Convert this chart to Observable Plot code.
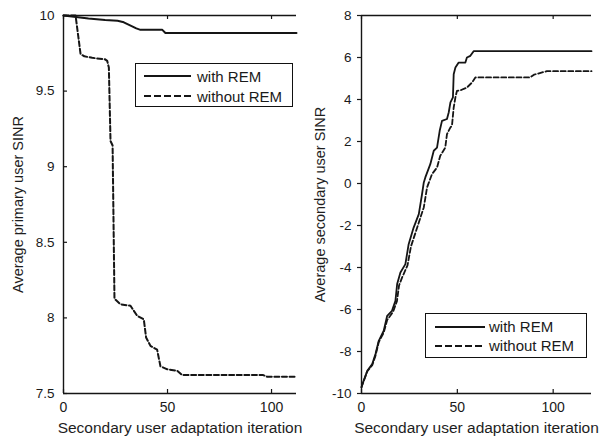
<!DOCTYPE html>
<html>
<head>
<meta charset="utf-8">
<script src="https://cdn.jsdelivr.net/npm/d3@7"></script>
<script src="https://cdn.jsdelivr.net/npm/@observablehq/plot@0.6"></script>
<style>
  body { margin: 0; background: #fff; font-family: "Liberation Sans", Arial, sans-serif; }
  #wrap { position: relative; width: 611px; height: 437px; overflow: hidden; background: #fff; }
  .panel { position: absolute; top: 0; }
  .legend { position: absolute; box-sizing: border-box; border: 1.4px solid #111; background: #fff;
            font-size: 15px; color: #1a1a1a; }
  .legend .row { display: flex; align-items: center; }
  .legend svg { display: block; }
</style>
</head>
<body>
<div id="wrap"></div>
<script>
// ---------- data ----------
const xLabel = "Secondary user adaptation iteration";
const yLabelLeft = "Average primary user SINR";
const yLabelRight = "Average secondary user SINR";
const seriesNames = ["with REM", "without REM"];

const xTicksLeft = [0, 50, 100];
const yTicksLeft = [7.5, 8, 8.5, 9, 9.5, 10];
const xTicksRight = [0, 50, 100];
const yTicksRight = [-10, -8, -6, -4, -2, 0, 2, 4, 6, 8];

// Left panel: average primary user SINR
const leftWithX = [0, 6, 12, 20, 26, 29, 32, 35, 37, 47.5, 49, 112];
const leftWithY = [10, 9.99, 9.98, 9.97, 9.965, 9.955, 9.935, 9.915, 9.905, 9.905, 9.884, 9.884];
const leftWithoutX = [0, 5.8, 8.2, 10, 13.8, 20, 21, 21.8, 22.6, 23.6, 24.5, 25, 27.4, 32.2, 35.4, 38.6, 39.7, 41.8, 45, 46.6, 49.9, 54.7, 57, 96, 98, 112];
const leftWithoutY = [10, 10, 9.745, 9.73, 9.72, 9.71, 9.70, 9.656, 9.17, 9.14, 8.125, 8.12, 8.09, 8.08, 8.014, 7.99, 7.87, 7.815, 7.79, 7.68, 7.66, 7.65, 7.622, 7.622, 7.61, 7.61];

// Right panel: average secondary user SINR
const rightWithX = [0, 0.3, 3, 5.6, 7.3, 9, 11.6, 13.4, 15.9, 17.7, 18.6, 20.3, 22.9, 24.6, 27.2, 29.9, 31.6, 32.5, 33.3, 35.9, 37.7, 39.4, 40.8, 42, 44.6, 45.5, 46.4, 47.7, 48.1, 49, 50.7, 54.2, 55, 56.8, 58.5, 120];
const rightWithY = [-9.7, -9.6, -8.92, -8.6, -8.12, -7.49, -7.01, -6.3, -6.06, -5.59, -4.79, -4.24, -3.84, -2.89, -2.1, -1.46, -0.5, 0.05, 0.29, 0.92, 1.56, 1.71, 2.51, 2.98, 3.07, 3.38, 3.86, 4.1, 5.2, 5.52, 5.76, 5.76, 6.0, 6.08, 6.3, 6.3];
const rightWithoutX = [0, 3, 5.6, 7.3, 9, 11.6, 13.4, 15, 16.5, 18.5, 19.6, 21.3, 24, 25.8, 28.5, 31, 32.5, 34.2, 36.8, 39.4, 41.1, 43.7, 44.6, 46.4, 47.2, 48.1, 49, 49.8, 52, 55, 57.7, 59.4, 88, 90, 96.7, 120];
const rightWithoutY = [-9.7, -8.95, -8.65, -8.2, -7.55, -7.1, -6.5, -6.3, -6.1, -5.6, -4.85, -4.45, -3.9, -3.0, -2.25, -1.55, -1.14, -0.19, 0.45, 0.76, 1.32, 1.71, 2.35, 2.67, 2.75, 3.62, 4.1, 4.41, 4.45, 4.57, 4.81, 5.05, 5.05, 5.18, 5.35, 5.35];

// ---------- helpers ----------
const pts = (xs, ys) => xs.map((x, i) => ({x, y: ys[i]}));
const ink = "#151515";
const dash = "5,2.6";

function panel({width, marginLeft, marginRight, xDomain, yDomain, xTicks, yTicks, yLabel, yLabelDx,
                withData, withoutData, inwardY, lineWidth}) {
  const height = 437, marginTop = 15, marginBottom = 44;
  const H = height - marginTop - marginBottom;
  const W = width - marginLeft - marginRight;
  const marks = [
    // frame lines: top, bottom, left
    Plot.ruleY([yDomain[1]], {stroke: ink, strokeWidth: 1.4}),
    Plot.ruleY([yDomain[0]], {stroke: ink, strokeWidth: 1.4}),
    Plot.ruleX([xDomain[0]], {stroke: ink, strokeWidth: 1.4}),
    // inward x ticks (bottom and top)
    Plot.tickX(xTicks, {x: d => d, stroke: ink, strokeWidth: 1.2, insetTop: H - 4}),
    Plot.tickX(xTicks, {x: d => d, stroke: ink, strokeWidth: 1.2, insetBottom: H - 4}),
    Plot.axisX({ticks: xTicks, tickSize: 0, tickPadding: 9, fontSize: 14, label: null, tickFormat: d => String(d)}),
    inwardY
      ? Plot.axisY({ticks: yTicks, tickSize: 0, tickPadding: 9, fontSize: 13.5, label: null, tickFormat: d => String(d)})
      : Plot.axisY({ticks: yTicks, tickSize: 4, tickPadding: 6, fontSize: 13.5, label: null, tickFormat: d => String(d), strokeWidth: 1.2}),
    // series
    Plot.line(withData, {x: "x", y: "y", stroke: ink, strokeWidth: lineWidth}),
    Plot.line(withoutData, {x: "x", y: "y", stroke: ink, strokeWidth: lineWidth, strokeDasharray: dash}),
    // axis titles
    Plot.text([xLabel], {text: d => d, frameAnchor: "bottom", textAnchor: "middle", lineAnchor: "middle",
                         dy: 35, fontSize: 15.5, fill: "#1e1e1e"}),
    Plot.text([yLabel], {text: d => d, frameAnchor: "left", textAnchor: "middle", lineAnchor: "middle",
                         rotate: -90, dx: yLabelDx, fontSize: 14.5, fill: "#1e1e1e"})
  ];
  if (inwardY) {
    marks.splice(5, 0, Plot.tickY(yTicks, {y: d => d, stroke: ink, strokeWidth: 1.2, insetRight: W - 4}));
  }
  return Plot.plot({
    width, height, marginTop, marginBottom, marginLeft, marginRight,
    x: {domain: xDomain},
    y: {domain: yDomain},
    style: {background: "transparent", overflow: "visible", maxWidth: "none", color: "#1a1a1a",
            fontFamily: "'Liberation Sans', Arial, sans-serif"},
    marks
  });
}

function legend({left, top, width, height, padTop, padLeft, rowH, lineW, gap}) {
  const box = document.createElement("div");
  box.className = "legend";
  Object.assign(box.style, {left: left + "px", top: top + "px", width: width + "px", height: height + "px",
                            paddingTop: padTop + "px", paddingLeft: padLeft + "px"});
  seriesNames.forEach((name, i) => {
    const row = document.createElement("div");
    row.className = "row";
    row.style.height = rowH + "px";
    const s = d3.create("svg").attr("width", lineW).attr("height", 4);
    s.append("line").attr("x1", 0).attr("x2", lineW).attr("y1", 2).attr("y2", 2)
      .attr("stroke", ink).attr("stroke-width", 2)
      .attr("stroke-dasharray", i === 1 ? "7,3" : null);
    row.appendChild(s.node());
    const t = document.createElement("span");
    t.textContent = name;
    t.style.marginLeft = gap + "px";
    row.appendChild(t);
    box.appendChild(row);
  });
  return box;
}

const wrap = document.getElementById("wrap");

const left = document.createElement("div");
left.className = "panel";
left.style.left = "0px";
left.appendChild(panel({
  width: 320, marginLeft: 63, marginRight: 24,
  xDomain: [0, 112], yDomain: [7.5, 10], xTicks: xTicksLeft, yTicks: yTicksLeft,
  yLabel: yLabelLeft, yLabelDx: -45.5,
  withData: pts(leftWithX, leftWithY), withoutData: pts(leftWithoutX, leftWithoutY),
  inwardY: true, lineWidth: 2
}));
wrap.appendChild(left);

const right = document.createElement("div");
right.className = "panel";
right.style.left = "300px";
right.appendChild(panel({
  width: 311, marginLeft: 61, marginRight: 20,
  xDomain: [0, 120], yDomain: [-10, 8], xTicks: xTicksRight, yTicks: yTicksRight,
  yLabel: yLabelRight, yLabelDx: -41,
  withData: pts(rightWithX, rightWithY), withoutData: pts(rightWithoutX, rightWithoutY),
  inwardY: false, lineWidth: 1.8
}));
wrap.appendChild(right);

wrap.appendChild(legend({left: 135, top: 63, width: 158, height: 44, padTop: 2, padLeft: 8, rowH: 20, lineW: 47, gap: 6}));
wrap.appendChild(legend({left: 425, top: 313, width: 162, height: 45, padTop: 3, padLeft: 9, rowH: 19, lineW: 50, gap: 4}));
</script>
</body>
</html>
